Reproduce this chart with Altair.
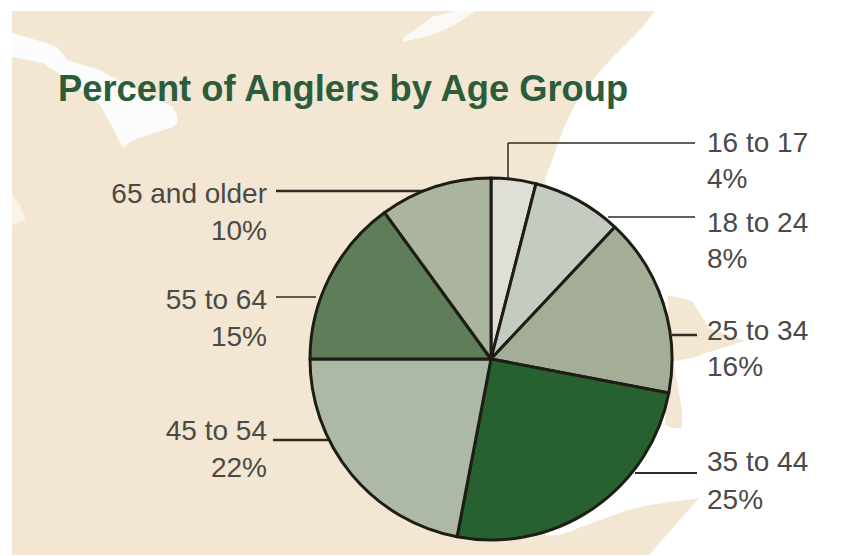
import altair as alt
import pandas as pd

W, H = 848, 548
X0, Y0 = 8, 8

# ---- chart values
age_groups = ["16 to 17", "18 to 24", "25 to 34", "35 to 44", "45 to 54", "55 to 64", "65 and older"]
percents = [4, 8, 16, 25, 22, 15, 10]
slice_colors = ["#dfdfd8", "#c4ccc1", "#a4ae97", "#27612f", "#aeb8a6", "#5f7d59", "#aab49f"]

# ---- label layout
label_x = [707, 707, 707, 707, 267, 267, 267]
label_align = ["left", "left", "left", "left", "right", "right", "right"]
label_y1 = [152, 232, 340, 471, 440, 309, 203]
label_y2 = [188, 268, 376, 509, 477, 346, 240]

# ---- leader layout
leader_x1 = [508, 608, 672, 635, 273, 276, 276]
leader_x2 = [695, 695, 697, 697, 328, 316, 425]
leader_y = [143, 217, 335, 473, 440, 297, 191]
leader_w = [1.5, 1.5, 2.5, 2, 2.5, 1.5, 2.5]

# ---- background map outlines
land_main_x = [12, 545, 545.5, 565, 580, 610, 640, 655]
land_main_top = [11, 11, 11, 11, 11, 11, 11, 11]
land_main_bot = [555, 555, 178, 125, 95, 60, 30, 11]
land_south_x = [450, 560, 600, 625, 649, 699]
land_south_top = [540, 535, 520, 511, 505, 498]
land_south_bot = [555, 555, 555, 555, 555, 498]
land_east_x = [668, 692, 709, 745]
land_east_top = [295, 301, 328, 341]
land_east_bot = [362, 358, 352, 341]
land_strip_x = [665, 673, 682]
land_strip_top = [360, 360, 410]
land_strip_bot = [425, 428, 428]
lake_x = [12, 43, 57, 67, 100, 107, 123, 133, 173, 177]
lake_top = [33, 42, 47, 60, 70, 74, 82, 88, 107, 115]
lake_bot = [57, 63, 72, 80, 105, 117, 148, 140, 127, 123]
inlet_x = [403, 432, 455, 475]
inlet_top = [38, 17, 11, 11]
inlet_bot = [42, 35, 25, 11]
notch_x = [12, 20, 25]
notch_top = [195, 205, 218]
notch_bot = [225, 222, 220]

TAN = "#f3e6d2"
xs = alt.Scale(domain=[X0, X0 + W], nice=False, zero=False)
ys = alt.Scale(domain=[Y0 + H, Y0], nice=False, zero=False)


def shape(x, top, bot, color):
    df = pd.DataFrame({"x": x, "top": top, "bot": bot})
    return alt.Chart(df).mark_area(color=color, opacity=1, clip=True).encode(
        x=alt.X("x:Q", scale=xs, axis=None),
        y=alt.Y("top:Q", scale=ys, axis=None),
        y2="bot:Q",
    )


layers = [
    shape(land_main_x, land_main_top, land_main_bot, TAN),
    shape(land_south_x, land_south_top, land_south_bot, TAN),
    shape(land_east_x, land_east_top, land_east_bot, TAN),
    shape(land_strip_x, land_strip_top, land_strip_bot, TAN),
    shape(lake_x, lake_top, lake_bot, "#fbfcfc"),
    shape(inlet_x, inlet_top, inlet_bot, "#fbf9f5"),
    shape(notch_x, notch_top, notch_bot, "#f9f3ea"),
]

# leaders
for i, _ in enumerate(age_groups):
    df = pd.DataFrame({"x": [leader_x1[i]], "x2": [leader_x2[i]], "y": [leader_y[i]]})
    layers.append(
        alt.Chart(df).mark_rule(color="#2e2a24", strokeWidth=leader_w[i]).encode(
            x=alt.X("x:Q", scale=xs, axis=None),
            x2="x2:Q",
            y=alt.Y("y:Q", scale=ys, axis=None),
        )
    )
layers.append(
    alt.Chart(pd.DataFrame({"x": [leader_x1[0]], "y": [leader_y[0]], "y2": [178]}))
    .mark_rule(color="#2e2a24", strokeWidth=1.5)
    .encode(
        x=alt.X("x:Q", scale=xs, axis=None),
        y=alt.Y("y:Q", scale=ys, axis=None),
        y2="y2:Q",
    )
)

# pie
pie_df = pd.DataFrame({"group": age_groups, "pct": percents, "ord": list(range(len(age_groups)))})
layers.append(
    alt.Chart(pie_df)
    .mark_arc(radius=181, stroke="#1d1d15", strokeWidth=3, strokeJoin="round")
    .encode(
        theta=alt.Theta("pct:Q", stack=True, scale=alt.Scale(domain=[0, 100])),
        order=alt.Order("ord:Q"),
        color=alt.Color("group:N", sort=age_groups,
                        scale=alt.Scale(domain=age_groups, range=slice_colors), legend=None),
        x=alt.value(491 - X0),
        y=alt.value(359 - Y0),
    )
)

# labels
FONT = "Liberation Sans"
for i, g in enumerate(age_groups):
    df = pd.DataFrame({"x": [label_x[i]] * 2, "y": [label_y1[i], label_y2[i]],
                       "t": [g, f"{percents[i]}%"]})
    layers.append(
        alt.Chart(df)
        .mark_text(font=FONT, fontSize=28, color="#4a4a46", align=label_align[i], baseline="alphabetic")
        .encode(
            x=alt.X("x:Q", scale=xs, axis=None),
            y=alt.Y("y:Q", scale=ys, axis=None),
            text="t:N",
        )
    )

# title
layers.append(
    alt.Chart(pd.DataFrame({"x": [58], "y": [101], "t": ["Percent of Anglers by Age Group"]}))
    .mark_text(font=FONT, fontSize=36.3, fontWeight="bold", color="#2c5d3a", align="left", baseline="alphabetic")
    .encode(
        x=alt.X("x:Q", scale=xs, axis=None),
        y=alt.Y("y:Q", scale=ys, axis=None),
        text="t:N",
    )
)

chart = (
    alt.layer(*layers)
    .resolve_scale(color="independent")
    .properties(width=W, height=H, padding=0, background="#ffffff",
                autosize=alt.AutoSizeParams(type="none"))
    .configure_view(stroke=None)
)

chart.save("out.html", embed_options={"renderer": "svg", "actions": False})
